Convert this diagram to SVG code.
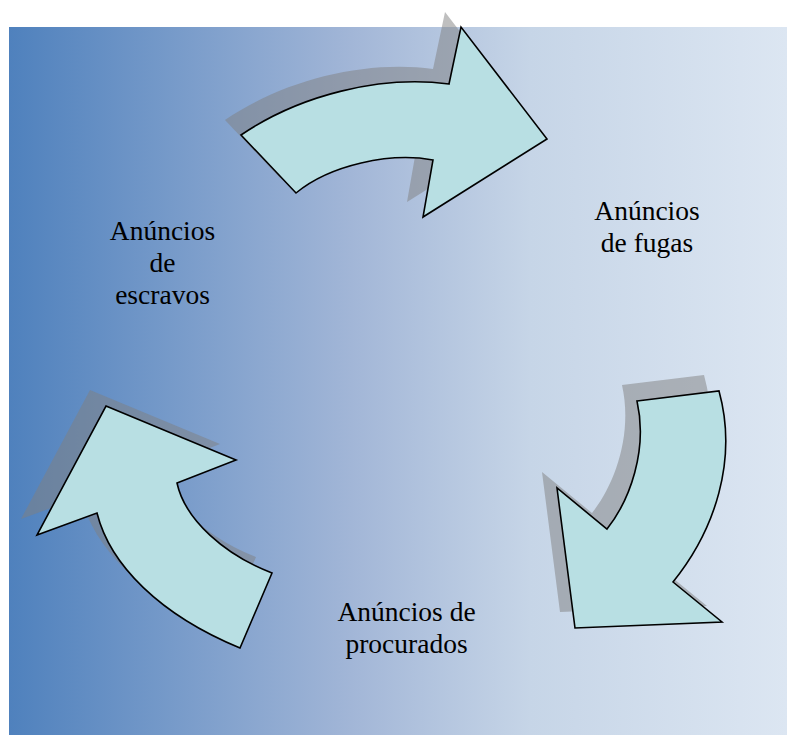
<svg xmlns="http://www.w3.org/2000/svg" xmlns:xlink="http://www.w3.org/1999/xlink" width="787" height="735" viewBox="0 0 787 735">
  <defs>
    <linearGradient id="bg" x1="0" y1="0" x2="1" y2="0">
      <stop offset="0" stop-color="#4f81bd"/>
      <stop offset="0.44" stop-color="#a2b6d7"/>
      <stop offset="0.67" stop-color="#c6d5e7"/>
      <stop offset="1" stop-color="#dce6f2"/>
    </linearGradient>
    <path id="a-top" d="M241,135 L296,193 C330,165 390,152 433,160 L423,217 L547,139 L461,27 L449,84 C380,75 300,95 241,135 Z"/>
    <path id="a-right" d="M637,401 L719,391 C738,460 715,530 673,582 L722,622 L575,628 L557,488 L607,529 C630,500 648,450 637,401 Z"/>
    <path id="a-left" d="M106,406 L236,460 L177,483 C185,520 225,555 272,573 L240,648 C160,615 110,565 97,513 L37,535 Z"/>
  </defs>
  <style>
    .shadow { fill: #808080; fill-opacity: 0.5; }
    .arrow { fill: #b8dfe3; stroke: #000000; stroke-width: 1.6; stroke-linejoin: miter; }
    .label { font-family: "Liberation Serif", "Times New Roman", serif; font-size: 27.5px; fill: #000000; text-anchor: middle; }
  </style>
  <rect x="9" y="27" width="778" height="708" fill="url(#bg)"/>
  <g id="connectors">
    <g id="arrow-top">
      <use xlink:href="#a-top" class="shadow" transform="translate(-16,-15)"/>
      <use xlink:href="#a-top" class="arrow"/>
    </g>
    <g id="arrow-right">
      <use xlink:href="#a-right" class="shadow" transform="translate(-15,-16)"/>
      <use xlink:href="#a-right" class="arrow"/>
    </g>
    <g id="arrow-left">
      <use xlink:href="#a-left" class="shadow" transform="translate(-16,-16)"/>
      <use xlink:href="#a-left" class="arrow"/>
    </g>
  </g>
  <g id="node-escravos">
    <text class="label" x="162.5" y="240">Anúncios</text>
    <text class="label" x="162.5" y="272">de</text>
    <text class="label" x="162.5" y="304">escravos</text>
  </g>
  <g id="node-fugas">
    <text class="label" x="647" y="220">Anúncios</text>
    <text class="label" x="647" y="252">de fugas</text>
  </g>
  <g id="node-procurados">
    <text class="label" x="406.5" y="621">Anúncios de</text>
    <text class="label" x="406.5" y="653">procurados</text>
  </g>
</svg>
